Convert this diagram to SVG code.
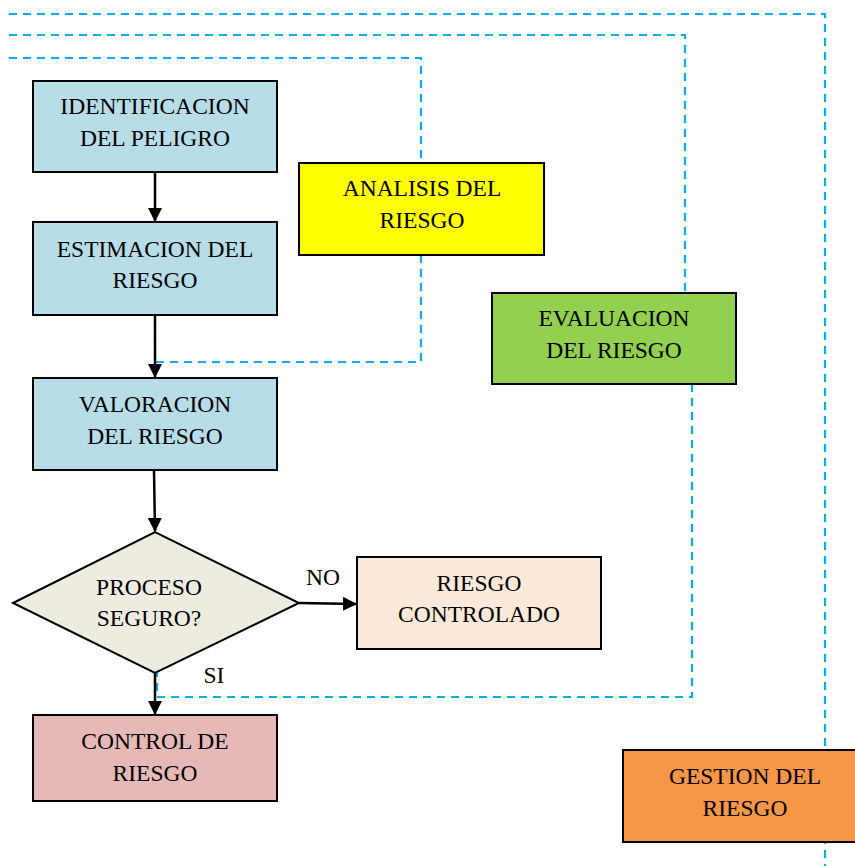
<svg xmlns="http://www.w3.org/2000/svg" width="855" height="866" viewBox="0 0 855 866">
<defs>
<marker id="ah" markerWidth="14" markerHeight="14" refX="13" refY="7" orient="auto" markerUnits="userSpaceOnUse" viewBox="0 0 14 14"><path d="M0,0 L14,7 L0,14 z" fill="#000"/></marker>
<style>
.box{stroke:#000;stroke-width:2}
.t{font-family:"Liberation Serif","Times New Roman",serif;font-size:23.5px;fill:#000;text-anchor:middle}
.d{fill:none;stroke:#00b0f0;stroke-width:2.2;stroke-dasharray:8 6}
.a{fill:none;stroke:#000;stroke-width:2.5;marker-end:url(#ah)}
</style>
</defs>
<rect width="855" height="866" fill="#fff"/>
<g id="connectors">
<path class="d" d="M9,14 H825 V866"/>
<path class="d" d="M9,35 H685 V293"/>
<path class="d" d="M9,58 H421 V163"/>
<path class="d" d="M421,255 V362 H155 V315"/>
<path class="d" d="M692,384 V697 H157 V673"/>
<path class="a" d="M155,172 V221"/>
<path class="a" d="M155,315 V377"/>
<path class="a" d="M154,470 L155,531"/>
<path class="a" d="M299,603 L356,604"/>
<path class="a" d="M155,673 V714"/>
</g>
<g id="identificacion"><rect class="box" x="33" y="81" width="244" height="91" fill="#b7dde8"/><text class="t" x="155" y="114">IDENTIFICACION</text><text class="t" x="155" y="146">DEL PELIGRO</text></g>
<g id="estimacion"><rect class="box" x="33" y="222" width="244" height="93" fill="#b7dde8"/><text class="t" x="155" y="257">ESTIMACION DEL</text><text class="t" x="155" y="288">RIESGO</text></g>
<g id="analisis"><rect class="box" x="299" y="163" width="245" height="92" fill="#ffff00"/><text class="t" x="422" y="196">ANALISIS DEL</text><text class="t" x="422" y="228">RIESGO</text></g>
<g id="evaluacion"><rect class="box" x="492" y="293" width="244" height="91" fill="#92d050"/><text class="t" x="614" y="326">EVALUACION</text><text class="t" x="614" y="358">DEL RIESGO</text></g>
<g id="valoracion"><rect class="box" x="33" y="378" width="244" height="92" fill="#b7dde8"/><text class="t" x="155" y="412">VALORACION</text><text class="t" x="155" y="444">DEL RIESGO</text></g>
<g id="proceso"><polygon class="box" points="13,603 155,532 299,603 155,673" fill="#eeece1"/><text class="t" x="149" y="595">PROCESO</text><text class="t" x="149" y="626">SEGURO?</text></g>
<g id="controlado"><rect class="box" x="357" y="557" width="244" height="92" fill="#fde9d9"/><text class="t" x="479" y="591">RIESGO</text><text class="t" x="479" y="622">CONTROLADO</text></g>
<g id="control"><rect class="box" x="33" y="715" width="244" height="86" fill="#e6b9b8"/><text class="t" x="155" y="749">CONTROL DE</text><text class="t" x="155" y="781">RIESGO</text></g>
<g id="gestion"><rect class="box" x="623" y="750" width="240" height="92" fill="#f79646"/><text class="t" x="745" y="784">GESTION DEL</text><text class="t" x="745" y="816">RIESGO</text></g>
<g id="labels"><text class="t" x="323" y="585">NO</text><text class="t" x="214" y="683">SI</text></g>
</svg>
